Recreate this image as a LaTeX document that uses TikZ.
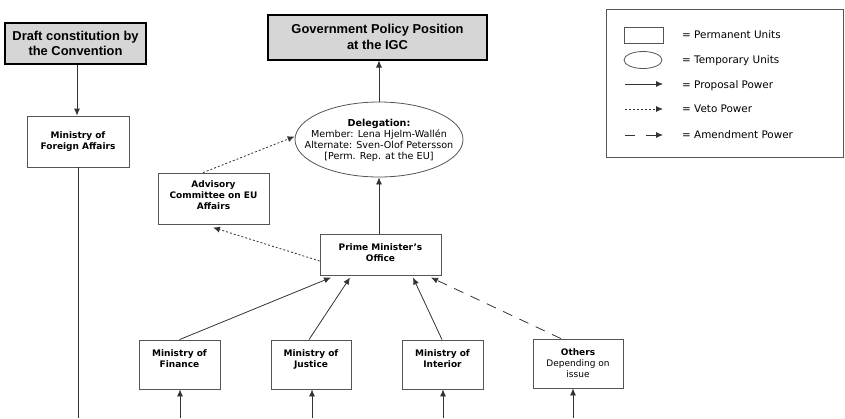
\documentclass[tikz,border=0pt]{standalone}
\usepackage{fontspec}
\setmainfont{DejaVu Sans}
\newfontfamily\headfont{Liberation Sans}
\usetikzlibrary{arrows.meta,shapes.geometric}
\definecolor{linegray}{HTML}{333333}
\definecolor{boxgray}{HTML}{555555}
\definecolor{headfill}{HTML}{D6D6D6}
\tikzset{
  tip/.style={-{Latex[length=7pt,width=6pt]}},
  conn/.style={tip, draw=linegray, line width=0.8pt},
  vetoline/.style={conn, dash pattern=on 2pt off 2pt},
  amendline/.style={conn, dash pattern=on 10pt off 8pt},
  unitbox/.style={draw=boxgray, line width=0.8pt, align=center, inner sep=1pt,
    font=\fontsize{9}{11}\selectfont\bfseries},
  headbox/.style={draw=black, line width=2pt, fill=headfill, align=center,
    font=\headfont\fontsize{12.9}{15.5}\selectfont\bfseries},
  legendtext/.style={anchor=west, inner sep=0pt, font=\fontsize{10.4}{12}\selectfont},
}
\begin{document}
\begin{tikzpicture}[x=1pt,y=-1pt]
\useasboundingbox (0,0) rectangle (845,418);

% headline boxes
\node[headbox, minimum width=141, minimum height=41] (draft) at (75.5,43.5) {Draft constitution by\\the Convention};
\node[headbox, minimum width=219, minimum height=45] (igc) at (377.5,37) {Government Policy Position\\at the IGC};

% delegation (temporary unit): fixed-size ellipse with its text on top
\node[ellipse, draw=boxgray, line width=0.8pt, minimum width=168, minimum height=75, inner sep=0pt] (deleg) at (379,139.5) {};
\node[align=center, inner sep=0pt, font=\fontsize{9.6}{11}\selectfont] (delegtext) at (379,140)
  {\textbf{Delegation:}\\Member: Lena Hjelm-Wallén\\Alternate: Sven-Olof Petersson\\{}[Perm. Rep. at the EU]};

% permanent units
\node[unitbox, minimum width=102, minimum height=51] (mfa) at (78,141.5) {Ministry of\\Foreign Affairs};
\node[unitbox, minimum width=111, minimum height=51] (adv) at (213.5,198.5) {Advisory\\Committee on EU\\Affairs\\[-4pt]~};
\node[unitbox, minimum width=121, minimum height=41] (pmo) at (380.5,254.5) {~\\[-7pt]Prime Minister’s\\Office};
\node[unitbox, minimum width=81, minimum height=49] (fin) at (179.5,364.5) {Ministry of\\Finance\\~};
\node[unitbox, minimum width=80, minimum height=49] (jus) at (311,364.5) {Ministry of\\Justice\\~};
\node[unitbox, minimum width=81, minimum height=49] (int) at (442.5,364.5) {Ministry of\\Interior\\~};
\node[unitbox, minimum width=90, minimum height=49] (oth) at (578,363.5) {Others\\\mdseries Depending on\\\mdseries issue};

% loose ends at the lower edge
\coordinate (mfaend) at (78,418);
\coordinate (finin) at (180,418);
\coordinate (jusin) at (312,418);
\coordinate (intin) at (443,418);
\coordinate (othin) at (573,418);

% proposal power
\draw[conn] (draft.south -| 77,0) -- (mfa.north -| 77,0);
\draw[draw=linegray, line width=0.8pt] (mfa.south) -- (mfaend);
\draw[conn] (deleg.north) -- (igc.south -| deleg.north);
\draw[conn] (pmo.north -| deleg.south) -- (deleg.south);
\draw[conn] (fin.north) -- (331,277.5);
\draw[conn] (jus.north -| 309,0) -- (350,277.5);
\draw[conn] (int.north -| 442,0) -- (413,277.5);
\draw[conn] (finin) -- (fin.south -| finin);
\draw[conn] (jusin) -- (jus.south -| jusin);
\draw[conn] (intin) -- (int.south -| intin);
\draw[conn] (othin) -- (oth.south -| othin);

% veto power
\draw[vetoline] (adv.north -| 203,0) -- (deleg.west |- 0,136.5);
\draw[vetoline] (pmo.west |- 0,261) -- (213,227.5);

% amendment power
\draw[amendline] (oth.north -| 561,0) -- (431,277.5);

% legend
\node[draw=boxgray, line width=0.8pt, minimum width=237, minimum height=148, inner sep=0pt] (legend) at (724.5,83) {};
\node[draw=boxgray, line width=0.8pt, minimum width=39, minimum height=16, inner sep=0pt] (lrect) at (643.5,35) {};
\node[ellipse, draw=boxgray, line width=0.8pt, minimum width=38, minimum height=17, inner sep=0pt] (lell) at (643,60) {};
\coordinate (lpa) at (625,84); \coordinate (lpb) at (663,84);
\coordinate (lva) at (625,109); \coordinate (lvb) at (663,109);
\coordinate (laa) at (625,135); \coordinate (lab) at (663,135);
\draw[conn] (lpa) -- (lpb);
\draw[vetoline] (lva) -- (lvb);
\draw[conn, dash pattern=on 10pt off 11pt] (laa) -- (lab);
\node[legendtext] (lt1) at (682,35) {= Permanent Units};
\node[legendtext] (lt2) at (682,61) {= Temporary Units};
\node[legendtext] (lt3) at (682,85.5) {= Proposal Power};
\node[legendtext] (lt4) at (682,109) {= Veto Power};
\node[legendtext] (lt5) at (682,135) {= Amendment Power};
\end{tikzpicture}
\end{document}
